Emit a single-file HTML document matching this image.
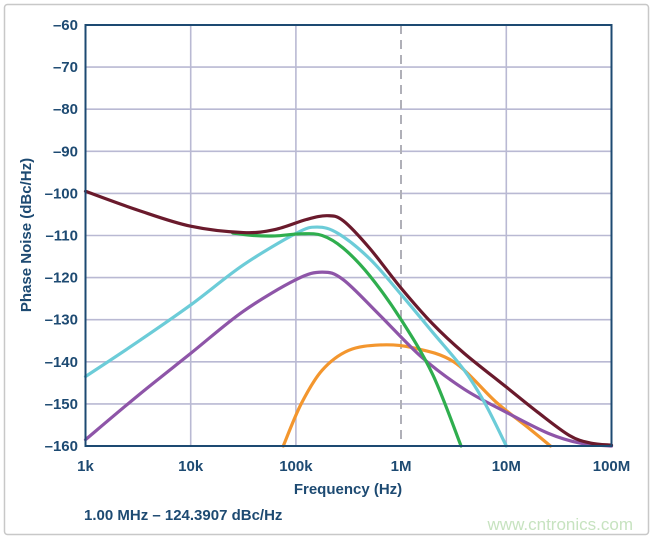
<!DOCTYPE html>
<html><head><meta charset="utf-8"><style>
body{margin:0;background:#fff;width:653px;height:539px;overflow:hidden}
text{font-family:"Liberation Sans",sans-serif;font-weight:bold;fill:#1d4a72}
</style></head><body>
<svg id="s" width="653" height="539" xmlns="http://www.w3.org/2000/svg">
<rect x="4.5" y="4.5" width="644" height="530" rx="3" fill="#fff" stroke="#c8c8c8" stroke-width="1.5"/>
<g id="grid" stroke="#b9b9d3" stroke-width="1.6"></g>
<line x1="401" y1="25" x2="401" y2="446" stroke="#b0b0b8" stroke-width="2" stroke-dasharray="9,6"/>
<g id="curves" fill="none" stroke-width="3.2" stroke-linecap="round"></g>
<rect x="85.5" y="25" width="526" height="421" fill="none" stroke="#1d4a72" stroke-width="2"/>
<g id="ylab" font-size="15" text-anchor="end"></g>
<g id="xlab" font-size="15" text-anchor="middle"></g>
<text x="348" y="494" font-size="15" text-anchor="middle">Frequency (Hz)</text>
<text transform="translate(31,235) rotate(-90)" font-size="15" text-anchor="middle">Phase Noise (dBc/Hz)</text>
<text x="84" y="520" font-size="15">1.00 MHz – 124.3907 dBc/Hz</text>
<text x="633" y="530" font-size="17" text-anchor="end" style="fill:#c7e3c0;font-weight:normal">www.cntronics.com</text>
</svg>
<script>
const X0=85.5,DX=105.2,Y0=25,DY=4.21,NS="http://www.w3.org/2000/svg";
const px=x=>X0+x*DX, py=d=>Y0+(-60-d)*DY;
const g=document.getElementById('grid'),yl=document.getElementById('ylab'),xl=document.getElementById('xlab');
function el(p,t,a,txt){const e=document.createElementNS(NS,t);for(const k in a)e.setAttribute(k,a[k]);if(txt)e.textContent=txt;p.appendChild(e);}
for(let i=0;i<=10;i++){const d=-60-10*i,y=py(d);if(i>0&&i<10)el(g,'line',{x1:X0,x2:611.5,y1:y,y2:y});el(yl,'text',{x:78,y:y+5},'–'+(-d));}
const xs=['1k','10k','100k','1M','10M','100M'];
for(let i=0;i<6;i++){const x=px(i);if(i>0&&i<5&&i!=3)el(g,'line',{x1:x,x2:x,y1:Y0,y2:446});el(xl,'text',{x:x,y:471},xs[i]);}
const C={
'#6a1a2c':[[0,-99.5],[0.5,-104],[1,-107.8],[1.5,-109.3],[1.8,-108.6],[2.1,-106.2],[2.3,-105.3],[2.45,-106.5],[2.7,-113],[3,-122.5],[3.3,-131],[3.6,-138],[4,-146],[4.3,-152],[4.6,-157.5],[4.8,-159.3],[5,-159.8]],
'#2fae4e':[[1.4,-109.4],[1.6,-110],[1.8,-110.1],[2.05,-109.6],[2.25,-110],[2.45,-113],[2.7,-119.5],[3,-130],[3.3,-143],[3.57,-160]],
'#6cccd8':[[0,-143.5],[0.5,-135.2],[1,-126.5],[1.5,-117],[2,-109.5],[2.2,-108],[2.4,-109.5],[2.7,-115.5],[3,-124],[3.3,-133],[3.6,-142],[3.8,-150],[4,-160]],
'#8e55a8':[[0,-158.5],[0.5,-148],[1,-138],[1.5,-128],[2,-120.5],[2.25,-118.7],[2.45,-120.5],[2.8,-129],[3.2,-139],[3.6,-146.5],[4,-152],[4.4,-157],[4.7,-159.3],[5,-160]],
'#f3962e':[[1.88,-160],[2.05,-150],[2.25,-142],[2.5,-137.3],[2.8,-136],[3.1,-136.6],[3.5,-140],[3.9,-149.5],[4.2,-155.5],[4.42,-160]]};
const cg=document.getElementById('curves');
for(const c of ['#f3962e','#8e55a8','#6cccd8','#2fae4e','#6a1a2c']){
const P=C[c].map(p=>[px(p[0]),py(p[1])]);let d='M'+P[0];
for(let i=0;i<P.length-1;i++){const p0=P[i-1]||P[i],p1=P[i],p2=P[i+1],p3=P[i+2]||p2;
d+=' C'+(p1[0]+(p2[0]-p0[0])/6)+','+(p1[1]+(p2[1]-p0[1])/6)+' '+(p2[0]-(p3[0]-p1[0])/6)+','+(p2[1]-(p3[1]-p1[1])/6)+' '+p2;}
el(cg,'path',{d:d,stroke:c});}
</script>
</body></html>
